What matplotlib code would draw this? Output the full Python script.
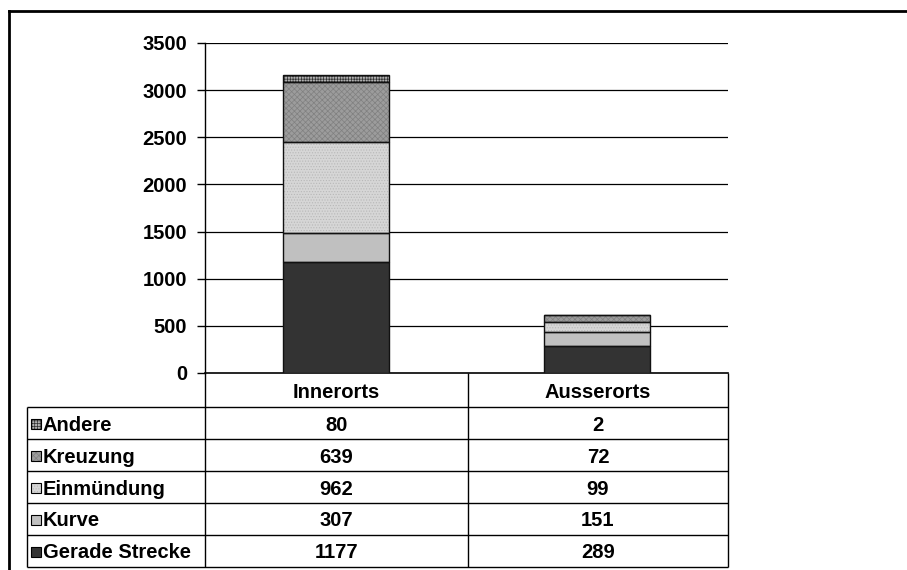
import matplotlib
matplotlib.use("Agg")
import matplotlib.pyplot as plt
from matplotlib.patches import Rectangle
from matplotlib.lines import Line2D
import numpy as np

plt.rcParams['font.family'] = ['Liberation Sans', 'DejaVu Sans']
plt.rcParams['font.weight'] = 'bold'
plt.rcParams['hatch.linewidth'] = 0.5

# Data
locations = ["Innerorts", "Ausserorts"]
series = ["Gerade Strecke", "Kurve", "Einmündung", "Kreuzung", "Andere"]
gerade_strecke = [1177, 289]
kurve = [307, 151]
einmuendung = [962, 99]
kreuzung = [639, 72]
andere = [80, 2]
values = [gerade_strecke, kurve, einmuendung, kreuzung, andere]
y_ticks = [0, 500, 1000, 1500, 2000, 2500, 3000, 3500]

# Fill styles per series: (face colour, hatch, hatch colour)
styles = [
    ("#333333", None, "#333333"),
    ("#c0c0c0", None, "#c0c0c0"),
    ("#d6d6d6", "......", "#b8b8b8"),
    ("#9c9c9c", "xxxxxx", "#808080"),
    ("#b0b0b0", "++++++", "#303030"),
]

FS = 14.5
W, H = 907, 570
fig = plt.figure(figsize=(W / 100, H / 100), dpi=100)

def fx(px):
    return px / W

def fy(py):
    return 1 - py / H

# Outer frame (top and left edges)
fig.add_artist(Line2D([fx(8.5), fx(8.5)], [fy(10.5), 0], color="black", lw=2, transform=fig.transFigure))
fig.add_artist(Line2D([fx(8.5), 1], [fy(10.5), fy(10.5)], color="black", lw=2, transform=fig.transFigure))

# Plot area
ax_l, ax_r, ax_t, ax_b = 205, 728, 43, 373
ax = fig.add_axes([fx(ax_l), fy(ax_b), fx(ax_r - ax_l), fy(ax_t) - fy(ax_b)])
x = np.arange(len(locations))
bottom = np.zeros(len(locations))
bar_w = 0.405
for vals, (fc, hatch, hc) in zip(values, styles):
    vals = np.array(vals, dtype=float)
    ax.bar(x, vals, bar_w, bottom=bottom, color=fc, edgecolor=hc, hatch=hatch, linewidth=0, zorder=3)
    ax.bar(x, vals, bar_w, bottom=bottom, facecolor="none", edgecolor="#111111", linewidth=1.0, zorder=4)
    bottom += vals

ax.set_xlim(-0.5, 1.5)
ax.set_ylim(0, 3500)
ax.set_yticks(y_ticks)
ax.set_yticklabels([str(t) for t in y_ticks], fontsize=FS, fontweight="bold")
ax.tick_params(axis="y", direction="out", length=6, width=1, pad=7, color="black")
ax.set_xticks([])
for t in y_ticks[1:]:
    ax.axhline(t, color="black", lw=0.9, zorder=1)
for s in ["top", "right"]:
    ax.spines[s].set_visible(False)
ax.spines["left"].set_linewidth(1.0)
ax.spines["bottom"].set_linewidth(1.2)

# Data table below the plot
tab_l, tab_r, tab_t, tab_b = 27, 728, 373, 567
tax = fig.add_axes([fx(tab_l), fy(tab_b), fx(tab_r - tab_l), fy(tab_t) - fy(tab_b)])
tax.set_xlim(tab_l, tab_r)
tax.set_ylim(tab_b, tab_t)
tax.axis("off")

col_edges = [205, 468, 728]
header_b = 407
row_h = (tab_b - header_b) / len(series)
lc = "black"
lw = 1.0

def hline(y, x0, x1):
    tax.plot([x0, x1], [y, y], color=lc, lw=lw, solid_capstyle="butt", clip_on=False)

def vline(x0, y0, y1):
    tax.plot([x0, x0], [y0, y1], color=lc, lw=lw, solid_capstyle="butt", clip_on=False)

hline(header_b, tab_l, tab_r)
for i in range(1, len(series) + 1):
    hline(header_b + i * row_h, tab_l, tab_r)
vline(tab_l, header_b, tab_b)
for cx in col_edges:
    vline(cx, tab_t, tab_b)

col_centers = [(col_edges[0] + col_edges[1]) / 2, (col_edges[1] + col_edges[2]) / 2]
for cx, name in zip(col_centers, locations):
    tax.text(cx, (tab_t + header_b) / 2 + 2, name, ha="center", va="center", fontsize=FS, fontweight="bold")

for r, idx in enumerate(reversed(range(len(series)))):
    cy = header_b + (r + 0.5) * row_h
    fc, hatch, hc = styles[idx]
    tax.add_patch(Rectangle((31, cy - 4.5), 10, 10, facecolor=fc, edgecolor=hc, hatch=hatch, lw=0, clip_on=False))
    tax.add_patch(Rectangle((31, cy - 4.5), 10, 10, facecolor="none", edgecolor="black", lw=0.8, clip_on=False))
    tax.text(43, cy + 2, series[idx], ha="left", va="center", fontsize=FS, fontweight="bold")
    for cx, v in zip(col_centers, values[idx]):
        tax.text(cx, cy + 2, str(v), ha="center", va="center", fontsize=FS, fontweight="bold")

fig.savefig("out.png", dpi=100)
